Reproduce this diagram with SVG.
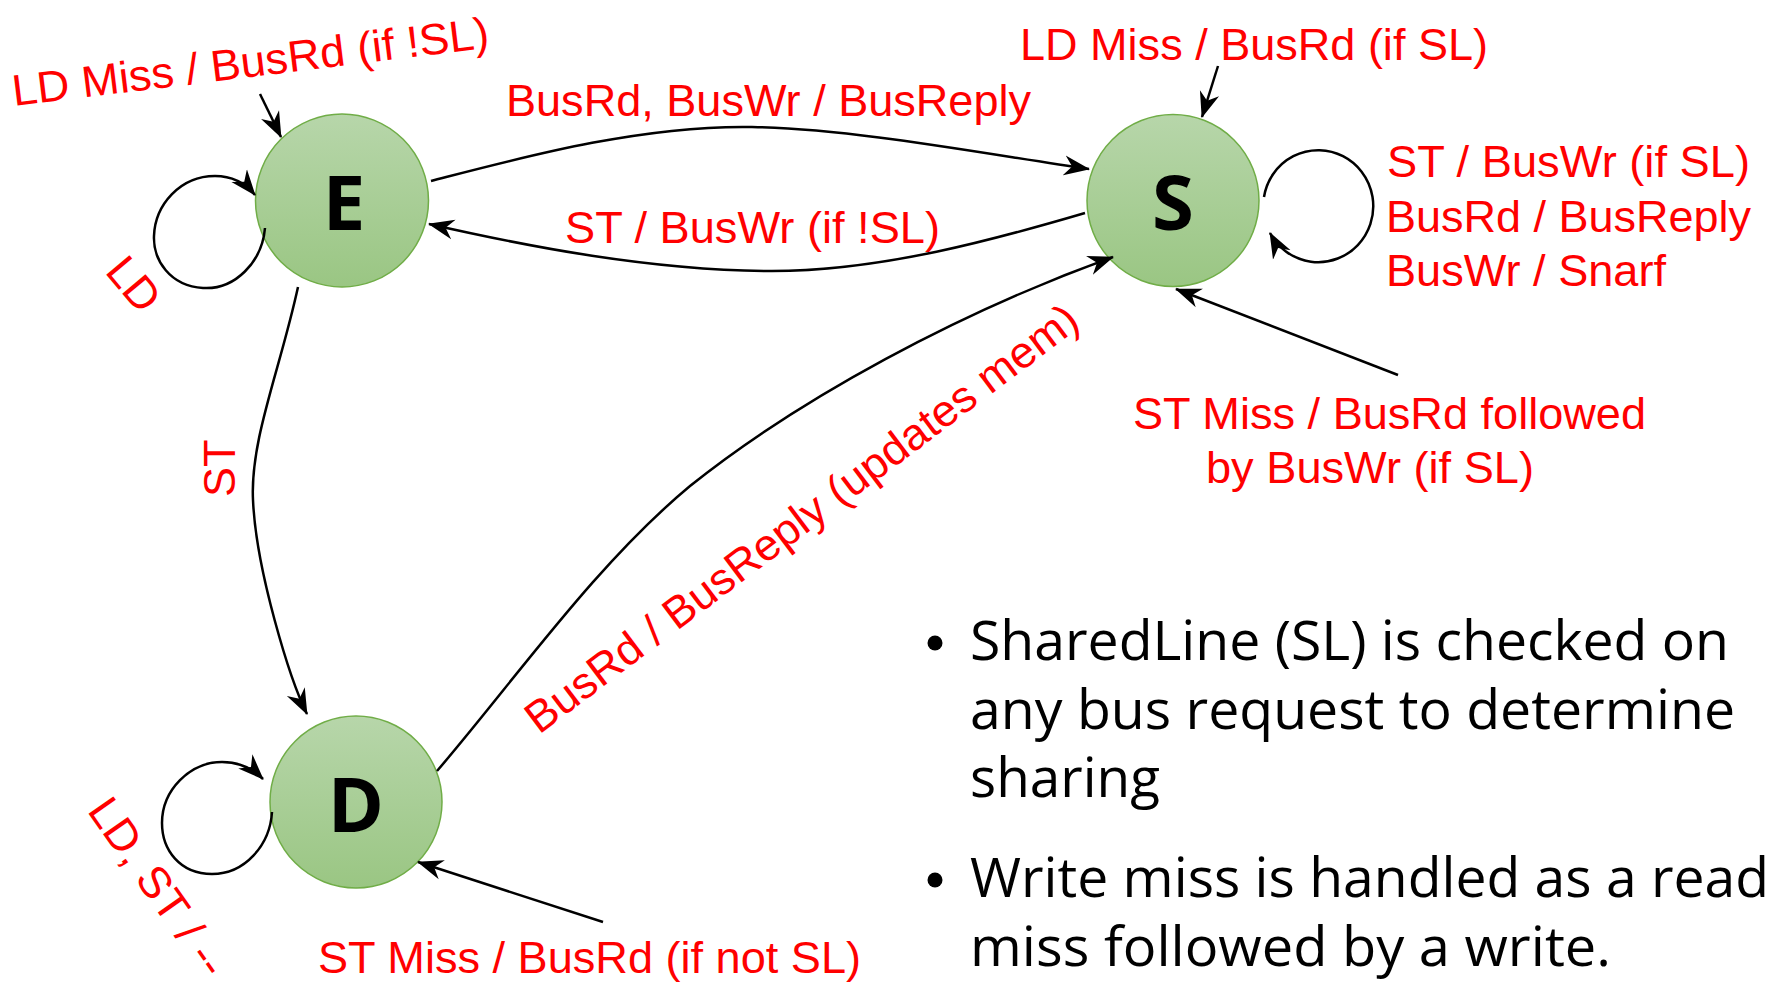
<svg xmlns="http://www.w3.org/2000/svg" width="1768" height="987" viewBox="0 0 1768 987">
  <style>
    .lbl { font-family: "Liberation Sans", Arial, sans-serif; font-size: 44px; fill: #ff0000; }
    .state { font-family: "Open Sans", "DejaVu Sans", sans-serif; font-weight: 700; font-size: 76px; fill: #000000; text-anchor: middle; }
    .note { font-family: "Open Sans", "DejaVu Sans", sans-serif; font-size: 55px; fill: #000000; }
    .edge { fill: none; stroke: #000000; stroke-width: 2.5; marker-end: url(#arrow); }
    .node { fill: url(#nodeFill); stroke: #70ad47; stroke-width: 1.5; }
  </style>
  <defs>
    <linearGradient id="nodeFill" x1="0" y1="0" x2="0" y2="1">
      <stop offset="0" stop-color="#b7d6aa"/>
      <stop offset="1" stop-color="#9ac683"/>
    </linearGradient>
    <marker id="arrow" viewBox="0 0 26 22" markerWidth="26" markerHeight="22" refX="25" refY="11" orient="auto" markerUnits="userSpaceOnUse">
      <path d="M0,1 L26,11 L0,21 L8,11 Z" fill="#000000"/>
    </marker>
  </defs>

  <rect width="1768" height="987" fill="#ffffff"/>

  <!-- states -->
  <g id="node-E">
    <circle class="node" cx="342" cy="200.5" r="86.5"/>
    <text class="state" x="344" y="230">E</text>
  </g>
  <g id="node-S">
    <circle class="node" cx="1173" cy="200.5" r="86"/>
    <text class="state" x="1173" y="230">S</text>
  </g>
  <g id="node-D">
    <circle class="node" cx="356" cy="802" r="86"/>
    <text class="state" x="356" y="832">D</text>
  </g>

  <!-- transitions -->
  <g id="connectors">
    <path class="edge" d="M260,94 L281,137"/>
    <path class="edge" d="M265,228 C262,262 235,290 203,288 C170,286 153,260 154,236 C155,205 180,176 215,176 C232,176 246,184 255,195"/>
    <path class="edge" d="M431,181 C520,158 640,125 752,127 C855,129 980,153 1089,169"/>
    <path class="edge" d="M1085,213 C1000,238 880,272 767,271 C650,270 530,247 429,224"/>
    <path class="edge" d="M298,287 C280,370 250,440 253,500 C256,570 290,680 307,714"/>
    <path class="edge" d="M437,771 C515,680 595,565 690,486 C800,398 960,312 1113,257"/>
    <path class="edge" d="M1218,66 L1202,117"/>
    <path class="edge" d="M1264,197 A55,56 0 1 1 1270,233"/>
    <path class="edge" d="M1398,375 L1176,289"/>
    <path class="edge" d="M603,922 L418,862"/>
    <path class="edge" d="M272,812 C270,845 245,874 212,874 C180,874 162,850 162,823 C162,790 190,762 222,762 C240,762 254,770 263,779"/>
  </g>

  <!-- transition labels -->
  <g id="labels">
    <text class="lbl" x="14" y="106" textLength="480" lengthAdjust="spacingAndGlyphs" transform="rotate(-7 14 106)">LD Miss / BusRd (if !SL)</text>
    <text class="lbl" x="0" y="0" textLength="57" lengthAdjust="spacingAndGlyphs" transform="translate(104 272) rotate(50)">LD</text>
    <text class="lbl" x="506" y="116" textLength="525" lengthAdjust="spacingAndGlyphs">BusRd, BusWr / BusReply</text>
    <text class="lbl" x="565" y="243" textLength="375" lengthAdjust="spacingAndGlyphs">ST / BusWr (if !SL)</text>
    <text class="lbl" x="1020" y="59.5" textLength="468" lengthAdjust="spacingAndGlyphs">LD Miss / BusRd (if SL)</text>
    <text class="lbl" x="1387" y="177" textLength="363" lengthAdjust="spacingAndGlyphs">ST / BusWr (if SL)</text>
    <text class="lbl" x="1386" y="231.5" textLength="365" lengthAdjust="spacingAndGlyphs">BusRd / BusReply</text>
    <text class="lbl" x="1386" y="286" textLength="280" lengthAdjust="spacingAndGlyphs">BusWr / Snarf</text>
    <text class="lbl" x="1133" y="428.5" textLength="513" lengthAdjust="spacingAndGlyphs">ST Miss / BusRd followed</text>
    <text class="lbl" x="1206" y="482.5" textLength="328" lengthAdjust="spacingAndGlyphs">by BusWr (if SL)</text>
    <text class="lbl" x="0" y="0" textLength="57.5" lengthAdjust="spacingAndGlyphs" transform="translate(235 497) rotate(-90)">ST</text>
    <text class="lbl" x="0" y="0" textLength="680" lengthAdjust="spacingAndGlyphs" transform="translate(539 735) rotate(-37)">BusRd / BusReply (updates mem)</text>
    <text class="lbl" x="0" y="0" textLength="207" lengthAdjust="spacingAndGlyphs" transform="translate(86.5 810.7) rotate(55)">LD, ST / --</text>
    <text class="lbl" x="318" y="973" textLength="543" lengthAdjust="spacingAndGlyphs">ST Miss / BusRd (if not SL)</text>
  </g>

  <!-- notes -->
  <g id="notes">
    <circle cx="935" cy="643" r="7.5" fill="#000000"/>
    <text class="note" x="970" y="660" textLength="759" lengthAdjust="spacingAndGlyphs">SharedLine (SL) is checked on</text>
    <text class="note" x="970" y="728.5" textLength="765" lengthAdjust="spacingAndGlyphs">any bus request to determine</text>
    <text class="note" x="970" y="797" textLength="190" lengthAdjust="spacingAndGlyphs">sharing</text>
    <circle cx="935" cy="880" r="7.5" fill="#000000"/>
    <text class="note" x="970" y="897" textLength="799" lengthAdjust="spacingAndGlyphs">Write miss is handled as a read</text>
    <text class="note" x="970" y="966" textLength="641" lengthAdjust="spacingAndGlyphs">miss followed by a write.</text>
  </g>
</svg>
